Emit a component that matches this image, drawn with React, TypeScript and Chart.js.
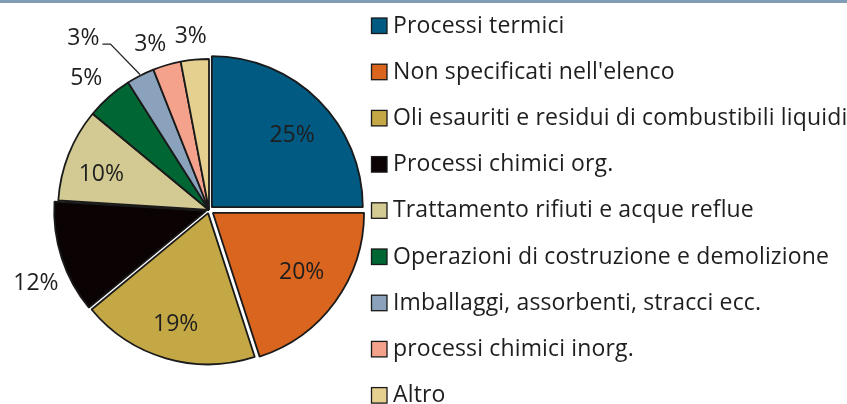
import React, { useEffect, useRef } from "react";
import { Chart, registerables } from "chart.js";

Chart.register(...registerables);

const categories = [
  "Processi termici",
  "Non specificati nell'elenco",
  "Oli esauriti e residui di combustibili liquidi",
  "Processi chimici org.",
  "Trattamento rifiuti e acque reflue",
  "Operazioni di costruzione e demolizione",
  "Imballaggi, assorbenti, stracci ecc.",
  "processi chimici inorg.",
  "Altro",
];
const shares = [25, 20, 19, 12, 10, 5, 3, 3, 3];
const percentLabels = ["25%", "20%", "19%", "12%", "10%", "5%", "3%", "3%", "3%"];
const sliceColors = [
  "#005a82",
  "#d9651e",
  "#c4a845",
  "#0a0203",
  "#d3c993",
  "#006633",
  "#8aa2bb",
  "#f4a28c",
  "#e6d08f",
];
// Chart.js draws roughly offset/4 for large slices
const sliceOffsets = [16, 19, 13, 12, 0, 0, 0, 0, 0];

const FONT_FAMILY = "'Open Sans'";
const TEXT_COLOR = "#1e1e1e";

type Place = { mode: "in" | "out" | "leader"; d: number; da: number };
const placements: Place[] = [
  { mode: "in", d: 0.74, da: 3 },
  { mode: "in", d: 0.74, da: -2 },
  { mode: "in", d: 0.79, da: 0 },
  { mode: "out", d: 37, da: -5 },
  { mode: "in", d: 0.75, da: -3.5 },
  { mode: "out", d: 29, da: -1.6 },
  { mode: "leader", d: 42, da: -3.7 },
  { mode: "out", d: 25, da: -3.3 },
  { mode: "out", d: 24, da: -0.6 },
];

const pieLabelsPlugin = {
  id: "pieLabels",
  afterDatasetsDraw(chart: any) {
    const ctx = chart.ctx;
    const meta = chart.getDatasetMeta(0);
    ctx.save();
    ctx.font = `23px ${FONT_FAMILY}`;
    ctx.fillStyle = TEXT_COLOR;
    ctx.textBaseline = "middle";
    meta.data.forEach((arc: any, i: number) => {
      const { x, y, startAngle, endAngle, outerRadius } = arc.getProps(
        ["x", "y", "startAngle", "endAngle", "outerRadius"],
        true
      );
      const p = placements[i];
      const center = (startAngle + endAngle) / 2;
      const mid = center + (p.da * Math.PI) / 180;
      const text = percentLabels[i];
      if (p.mode === "leader") {
        const ex = x + (outerRadius + p.d) * Math.cos(mid);
        const ey = y + (outerRadius + p.d) * Math.sin(mid);
        const sx = x + (outerRadius + 1) * Math.cos(center);
        const sy = y + (outerRadius + 1) * Math.sin(center);
        ctx.strokeStyle = "#262626";
        ctx.lineWidth = 1.3;
        ctx.beginPath();
        ctx.moveTo(ex - 8, ey);
        ctx.lineTo(ex, ey);
        ctx.lineTo(sx, sy);
        ctx.stroke();
        ctx.textAlign = "right";
        ctx.fillText(text, ex - 11, ey - 6);
      } else {
        const dist = p.mode === "in" ? outerRadius * p.d : outerRadius + p.d;
        ctx.textAlign = "center";
        ctx.fillText(text, x + dist * Math.cos(mid), y + dist * Math.sin(mid));
      }
    });
    ctx.restore();
  },
};

const sideLegendPlugin = {
  id: "sideLegend",
  beforeDraw(chart: any) {
    const ctx = chart.ctx;
    ctx.save();
    ctx.fillStyle = "#809db5";
    ctx.fillRect(0, 0, chart.width, 3);
    ctx.restore();
  },
  afterDraw(chart: any) {
    const ctx = chart.ctx;
    const labels: string[] = chart.data.labels;
    const colors: string[] = chart.data.datasets[0].backgroundColor;
    ctx.save();
    ctx.font = `23px ${FONT_FAMILY}`;
    ctx.textBaseline = "middle";
    ctx.textAlign = "left";
    (ctx as any).letterSpacing = "0.15px";
    labels.forEach((lab, i) => {
      const cy = 26 + i * 46.2;
      ctx.fillStyle = colors[i];
      ctx.fillRect(371.5, cy - 8, 15.5, 15.5);
      ctx.strokeStyle = "#1a1a1a";
      ctx.lineWidth = 1.3;
      ctx.strokeRect(371.5, cy - 8, 15.5, 15.5);
      ctx.fillStyle = TEXT_COLOR;
      ctx.fillText(lab, 393, cy);
    });
    ctx.restore();
  },
};

export default function App() {
  const ref = useRef<HTMLCanvasElement | null>(null);
  useEffect(() => {
    document.body.style.margin = "0";
    if (!ref.current) return;
    const chart = new Chart(ref.current, {
      type: "pie",
      data: {
        labels: categories,
        datasets: [
          {
            data: shares,
            backgroundColor: sliceColors,
            borderColor: "#1a1a1a",
            borderWidth: 1.8,
            offset: sliceOffsets,
          },
        ],
      },
      options: {
        responsive: false,
        animation: false,
        radius: 151,
        layout: { padding: { left: 57, right: 486, top: 58, bottom: 42 } },
        plugins: {
          legend: { display: false },
          tooltip: { enabled: false },
          title: { display: false },
        },
      } as any,
      plugins: [pieLabelsPlugin, sideLegendPlugin],
    });
    return () => chart.destroy();
  }, []);
  return (
    <div style={{ width: 847, height: 404, background: "#fff" }}>
      <canvas ref={ref} width={847} height={404} />
    </div>
  );
}
